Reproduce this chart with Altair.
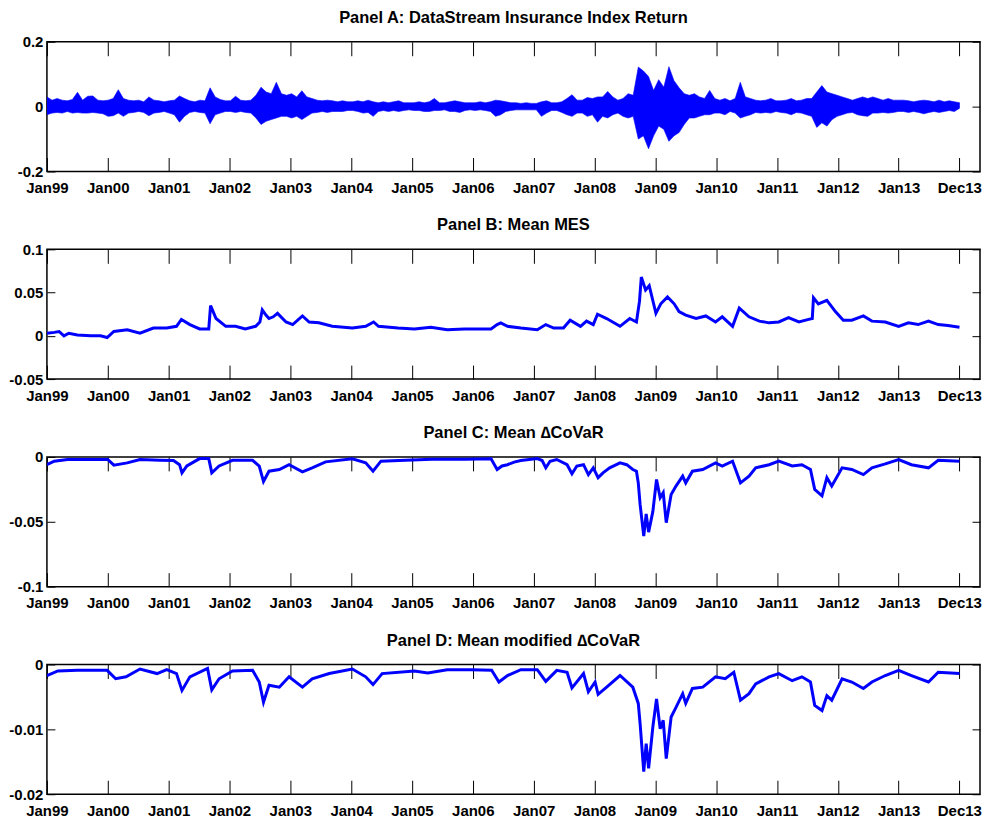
import altair as alt
import pandas as pd

FONT = "Liberation Sans, Arial, sans-serif"
BLUE = "#0000FF"

# ---- x axis (decimal years) ----
tick_years = [1999, 2000, 2001, 2002, 2003, 2004, 2005, 2006, 2007, 2008,
              2009, 2010, 2011, 2012, 2013, 2013.997]
tick_labels = ["Jan99", "Jan00", "Jan01", "Jan02", "Jan03", "Jan04", "Jan05",
               "Jan06", "Jan07", "Jan08", "Jan09", "Jan10", "Jan11", "Jan12",
               "Jan13", "Dec13"]
x_domain = [1999.0, 2014.337]

# ---- Panel A: monthly high / low of daily index return (Jan 1999 .. Dec 2013) ----
ret_hi = [
    0.030, 0.020, 0.025, 0.020, 0.018, 0.022, 0.044, 0.020, 0.032, 0.033, 0.020, 0.018,  # 1999
    0.020, 0.025, 0.052, 0.025, 0.020, 0.018, 0.020, 0.015, 0.030, 0.020, 0.018, 0.015,  # 2000
    0.018, 0.020, 0.033, 0.025, 0.018, 0.015, 0.020, 0.018, 0.058, 0.030, 0.022, 0.018,  # 2001
    0.018, 0.032, 0.020, 0.018, 0.020, 0.035, 0.060, 0.045, 0.040, 0.075, 0.040, 0.035,  # 2002
    0.040, 0.030, 0.049, 0.030, 0.025, 0.020, 0.018, 0.020, 0.018, 0.015, 0.018, 0.015,  # 2003
    0.015, 0.018, 0.015, 0.020, 0.015, 0.012, 0.015, 0.012, 0.015, 0.018, 0.012, 0.012,  # 2004
    0.012, 0.015, 0.012, 0.015, 0.025, 0.012, 0.012, 0.015, 0.018, 0.015, 0.012, 0.012,  # 2005
    0.012, 0.015, 0.012, 0.015, 0.020, 0.018, 0.015, 0.012, 0.012, 0.010, 0.012, 0.010,  # 2006
    0.010, 0.015, 0.018, 0.012, 0.012, 0.015, 0.025, 0.037, 0.020, 0.020, 0.028, 0.025,  # 2007
    0.030, 0.030, 0.047, 0.030, 0.020, 0.025, 0.040, 0.035, 0.122, 0.110, 0.093, 0.050,  # 2008
    0.083, 0.060, 0.123, 0.080, 0.058, 0.040, 0.035, 0.040, 0.030, 0.025, 0.050, 0.025,  # 2009
    0.020, 0.025, 0.018, 0.025, 0.075, 0.030, 0.025, 0.020, 0.018, 0.020, 0.025, 0.018,  # 2010
    0.018, 0.020, 0.025, 0.018, 0.020, 0.025, 0.025, 0.045, 0.065, 0.045, 0.040, 0.035,  # 2011
    0.030, 0.025, 0.020, 0.025, 0.030, 0.025, 0.030, 0.025, 0.020, 0.025, 0.020, 0.020,  # 2012
    0.020, 0.018, 0.015, 0.018, 0.020, 0.018, 0.015, 0.020, 0.015, 0.018, 0.015, 0.012,  # 2013
]
ret_lo = [
    -0.025, -0.020, -0.018, -0.020, -0.015, -0.020, -0.018, -0.020, -0.020, -0.018, -0.020, -0.022,  # 1999
    -0.030, -0.028, -0.020, -0.030, -0.020, -0.018, -0.015, -0.018, -0.028, -0.020, -0.018, -0.015,  # 2000
    -0.020, -0.025, -0.048, -0.030, -0.018, -0.015, -0.018, -0.020, -0.053, -0.025, -0.020, -0.015,  # 2001
    -0.015, -0.018, -0.015, -0.018, -0.020, -0.035, -0.055, -0.045, -0.040, -0.035, -0.030, -0.030,  # 2002
    -0.035, -0.030, -0.040, -0.030, -0.020, -0.018, -0.015, -0.018, -0.015, -0.015, -0.015, -0.012,  # 2003
    -0.012, -0.015, -0.020, -0.018, -0.030, -0.015, -0.012, -0.015, -0.012, -0.015, -0.012, -0.010,  # 2004
    -0.012, -0.012, -0.015, -0.015, -0.012, -0.012, -0.010, -0.015, -0.015, -0.018, -0.012, -0.010,  # 2005
    -0.012, -0.010, -0.012, -0.015, -0.030, -0.025, -0.015, -0.012, -0.010, -0.010, -0.010, -0.010,  # 2006
    -0.010, -0.030, -0.020, -0.012, -0.012, -0.018, -0.025, -0.030, -0.020, -0.020, -0.030, -0.025,  # 2007
    -0.048, -0.030, -0.035, -0.025, -0.020, -0.030, -0.035, -0.030, -0.100, -0.090, -0.130, -0.090,  # 2008
    -0.060, -0.070, -0.107, -0.090, -0.080, -0.055, -0.035, -0.035, -0.030, -0.025, -0.025, -0.020,  # 2009
    -0.020, -0.025, -0.015, -0.020, -0.035, -0.030, -0.025, -0.018, -0.020, -0.018, -0.020, -0.015,  # 2010
    -0.018, -0.020, -0.025, -0.018, -0.020, -0.025, -0.030, -0.064, -0.050, -0.060, -0.040, -0.030,  # 2011
    -0.025, -0.020, -0.018, -0.025, -0.028, -0.030, -0.020, -0.020, -0.018, -0.020, -0.018, -0.015,  # 2012
    -0.015, -0.018, -0.015, -0.018, -0.022, -0.018, -0.015, -0.018, -0.015, -0.012, -0.015, -0.005,  # 2013
]

# ---- Panel B: Mean MES ----
mes_t = [1999.0, 1999.12, 1999.2, 1999.28, 1999.36, 1999.5, 1999.72, 1999.88, 1999.99, 2000.1,
         2000.32, 2000.53, 2000.75, 2000.97, 2001.13, 2001.21, 2001.35, 2001.51, 2001.66, 2001.69,
         2001.78, 2001.94, 2002.1, 2002.26, 2002.43, 2002.5, 2002.54, 2002.6, 2002.65, 2002.72,
         2002.79, 2002.93, 2003.04, 2003.2, 2003.31, 2003.47, 2003.69, 2004.02, 2004.24, 2004.37,
         2004.45, 2004.77, 2005.04, 2005.31, 2005.58, 2005.86, 2006.13, 2006.3, 2006.4, 2006.46,
         2006.57, 2006.79, 2007.06, 2007.2, 2007.33, 2007.49, 2007.6, 2007.77, 2007.87, 2007.98,
         2008.05, 2008.2, 2008.42, 2008.58, 2008.69, 2008.74, 2008.77, 2008.84, 2008.9, 2009.01,
         2009.09, 2009.2, 2009.31, 2009.39, 2009.5, 2009.67, 2009.83, 2009.99, 2010.1, 2010.27,
         2010.38, 2010.54, 2010.71, 2010.87, 2011.03, 2011.19, 2011.36, 2011.52, 2011.58, 2011.6,
         2011.68, 2011.82, 2011.96, 2012.09, 2012.23, 2012.42, 2012.56, 2012.78, 2013.0, 2013.16,
         2013.32, 2013.49, 2013.65, 2013.81, 2014.0]
mes_v = [0.003, 0.004, 0.005, 0.0, 0.003, 0.001, 0.0, 0.0, -0.002, 0.005,
         0.007, 0.003, 0.009, 0.009, 0.011, 0.019, 0.013, 0.008, 0.008, 0.035,
         0.020, 0.011, 0.011, 0.008, 0.011, 0.016, 0.030, 0.024, 0.020, 0.022,
         0.026, 0.016, 0.013, 0.023, 0.016, 0.015, 0.011, 0.009, 0.011, 0.016,
         0.011, 0.009, 0.008, 0.010, 0.007, 0.008, 0.008, 0.008, 0.013, 0.015,
         0.011, 0.009, 0.007, 0.013, 0.009, 0.009, 0.018, 0.011, 0.017, 0.013,
         0.025, 0.020, 0.011, 0.020, 0.016, 0.040, 0.068, 0.053, 0.058, 0.026,
         0.037, 0.045, 0.037, 0.028, 0.024, 0.020, 0.023, 0.016, 0.022, 0.011,
         0.032, 0.022, 0.017, 0.015, 0.016, 0.021, 0.016, 0.019, 0.020, 0.044,
         0.037, 0.041, 0.028, 0.018, 0.018, 0.023, 0.017, 0.016, 0.011, 0.015,
         0.013, 0.017, 0.013, 0.012, 0.010]

# ---- Panel C: Mean Delta CoVaR ----
covar_t = [1999.0, 1999.12, 1999.34, 1999.7, 2000.0, 2000.1, 2000.32, 2000.53, 2000.86, 2001.08,
           2001.18, 2001.22, 2001.3, 2001.51, 2001.66, 2001.71, 2001.83, 2002.05, 2002.38, 2002.49,
           2002.56, 2002.65, 2002.82, 2002.98, 2003.2, 2003.36, 2003.58, 2004.02, 2004.24, 2004.36,
           2004.49, 2004.79, 2005.33, 2005.88, 2006.3, 2006.4, 2006.48, 2006.57, 2006.68, 2006.79,
           2007.06, 2007.14, 2007.2, 2007.27, 2007.38, 2007.55, 2007.63, 2007.71, 2007.82, 2007.9,
           2007.98, 2008.06, 2008.14, 2008.25, 2008.42, 2008.53, 2008.63, 2008.69,
           2008.72, 2008.75, 2008.81, 2008.85, 2008.89, 2008.96, 2009.02, 2009.08, 2009.13,
           2009.18, 2009.26, 2009.34, 2009.45, 2009.5, 2009.61, 2009.78, 2009.99, 2010.1, 2010.27,
           2010.4, 2010.54, 2010.65, 2010.87, 2011.03, 2011.25, 2011.41, 2011.55, 2011.62, 2011.74,
           2011.82, 2011.9, 2012.07, 2012.23, 2012.42, 2012.56, 2012.78, 2013.0, 2013.21, 2013.49,
           2013.65, 2014.0]
covar_v = [-0.006, -0.0033, -0.002, -0.002, -0.002, -0.0064, -0.0046, -0.002, -0.0026, -0.0028,
           -0.006, -0.0123, -0.007, -0.0013, -0.0013, -0.0123, -0.007, -0.0026, -0.0026, -0.007,
           -0.019, -0.011, -0.0097, -0.0059, -0.0115, -0.0084, -0.0038, -0.0015, -0.0046, -0.011,
           -0.0033, -0.0028, -0.0018, -0.0018, -0.0015, -0.0097, -0.007, -0.006, -0.004, -0.0028,
           -0.0013, -0.0028, -0.0084, -0.0033, -0.002, -0.006, -0.013, -0.007, -0.006, -0.0136,
           -0.0084, -0.016, -0.0123, -0.0084, -0.0046, -0.006, -0.0097, -0.011,
           -0.020, -0.0366, -0.061, -0.044, -0.058, -0.042, -0.0174, -0.0315, -0.0276,
           -0.0507, -0.029, -0.0225, -0.0148, -0.020, -0.011, -0.0097, -0.0046, -0.007, -0.0033,
           -0.020, -0.0148, -0.0084, -0.006, -0.0033, -0.007, -0.006, -0.0097, -0.025, -0.030,
           -0.016, -0.0225, -0.0084, -0.0097, -0.0136, -0.0084, -0.0054, -0.002, -0.006, -0.0084,
           -0.0026, -0.0033]

# ---- Panel D: Mean modified Delta CoVaR ----
mcovar_t = [1999.0, 1999.18, 1999.5, 1999.99, 2000.13, 2000.3, 2000.53, 2000.81, 2000.97, 2001.13,
            2001.22, 2001.35, 2001.64, 2001.71, 2001.83, 2002.05, 2002.38, 2002.49, 2002.56, 2002.65,
            2002.82, 2002.98, 2003.2, 2003.36, 2003.64, 2004.02, 2004.24, 2004.36, 2004.51, 2005.04,
            2005.26, 2005.58, 2005.97, 2006.31, 2006.43, 2006.57, 2006.79, 2007.06, 2007.2, 2007.38,
            2007.55, 2007.63, 2007.82, 2007.9, 2008.01, 2008.06, 2008.2, 2008.42, 2008.63, 2008.72,
            2008.75, 2008.81, 2008.85, 2008.89, 2008.96, 2009.02, 2009.08, 2009.13, 2009.18, 2009.26,
            2009.34, 2009.45, 2009.5, 2009.61, 2009.78, 2009.99, 2010.15, 2010.29, 2010.4, 2010.54,
            2010.65, 2010.87, 2011.03, 2011.25, 2011.41, 2011.55, 2011.62, 2011.74, 2011.82, 2011.9,
            2012.07, 2012.23, 2012.42, 2012.56, 2012.78, 2013.0, 2013.21, 2013.49, 2013.65, 2014.0]
mcovar_v = [-0.0017, -0.001, -0.0009, -0.0009, -0.0022, -0.0019, -0.0007, -0.0014, -0.0008, -0.0014,
            -0.004, -0.0019, -0.0006, -0.0039, -0.0022, -0.001, -0.0009, -0.0027, -0.0058, -0.0032,
            -0.0035, -0.0019, -0.0035, -0.0022, -0.0014, -0.0007, -0.0019, -0.0031, -0.0014, -0.001,
            -0.0013, -0.0008, -0.0008, -0.0009, -0.0027, -0.0017, -0.0008, -0.0008, -0.0026, -0.0009,
            -0.0012, -0.0036, -0.0014, -0.0042, -0.0027, -0.0046, -0.0035, -0.0017, -0.0035, -0.006,
            -0.0091, -0.0165, -0.0122, -0.016, -0.0096, -0.0053, -0.0099, -0.0086, -0.0145, -0.0081,
            -0.0066, -0.0045, -0.006, -0.0037, -0.0035, -0.0019, -0.0022, -0.0012, -0.0055, -0.0045,
            -0.003, -0.0019, -0.0014, -0.0025, -0.0019, -0.0027, -0.0063, -0.0071, -0.0048, -0.0055,
            -0.0022, -0.0027, -0.0037, -0.0027, -0.0017, -0.0009, -0.0017, -0.0027, -0.0012, -0.0014]

titles = ["Panel A: DataStream Insurance Index Return",
          "Panel B: Mean MES",
          "Panel C: Mean \u2206CoVaR",
          "Panel D: Mean modified \u2206CoVaR"]
y_domains = [[-0.2, 0.2], [-0.05, 0.1], [-0.1, 0.0], [-0.02, 0.0]]
y_ticks = [[-0.2, 0.0, 0.2], [-0.05, 0.0, 0.05, 0.1], [-0.1, -0.05, 0.0], [-0.02, -0.01, 0.0]]

W, H = 935, 130
XT, YT = 14, 8   # inward tick lengths (drawn as dashed grid)

n_months = len(ret_hi)
df_a = pd.DataFrame({
    "t": [1999 + i * 15.0 / (n_months - 1) for i in range(n_months)],
    "lo": ret_lo,
    "hi": ret_hi,
})
df_b = pd.DataFrame({"t": mes_t, "v": mes_v})
df_c = pd.DataFrame({"t": covar_t, "v": covar_v})
df_d = pd.DataFrame({"t": mcovar_t, "v": mcovar_v})

label_expr = ("[" + ",".join("'%s'" % s for s in tick_labels) + "][indexof(["
              + ",".join(repr(v) for v in tick_years) + "], datum.value)]")

COMMON = dict(labelFont=FONT, labelFontSize=15, labelFontWeight="bold", labelColor="black",
              ticks=False, domain=False, title=None, labelOverlap=False, labelFlush=False,
              grid=True, gridColor="black", gridOpacity=1, gridWidth=1)


def x_enc():
    return alt.X("t:Q", scale=alt.Scale(domain=x_domain, nice=False, zero=False),
                 axis=alt.Axis(orient="bottom", values=tick_years, labelExpr=label_expr,
                               labelPadding=9, gridDash=[XT, H - 2 * XT, XT], **COMMON))


def y_enc(field, ydom, yt):
    return alt.Y(field, scale=alt.Scale(domain=ydom, nice=False, zero=False),
                 axis=alt.Axis(orient="left", values=yt, labelExpr="toString(datum.value)",
                               labelPadding=4, gridDash=[YT, W - 2 * YT, YT], **COMMON))


def titled(ch, text):
    return ch.properties(
        width=W, height=H,
        title=alt.TitleParams(text=text, font=FONT, fontSize=16.5, fontWeight="bold",
                              color="black", anchor="middle", frame="group",
                              baseline="alphabetic", offset=18, dy=22.5),
    )


panel_a = alt.Chart(df_a).mark_area(color=BLUE, opacity=1, clip=True,
                                    stroke=BLUE, strokeWidth=0.6).encode(
    x=x_enc(), y=y_enc("hi:Q", y_domains[0], y_ticks[0]), y2="lo:Q")

lines = []
for df, k in [(df_b, 1), (df_c, 2), (df_d, 3)]:
    lines.append(alt.Chart(df).mark_line(color=BLUE, strokeWidth=3, clip=True).encode(
        x=x_enc(), y=y_enc("v:Q", y_domains[k], y_ticks[k])))

panels = [titled(panel_a, titles[0])] + [titled(lines[i], titles[i + 1]) for i in range(3)]

chart = alt.vconcat(*panels, spacing=78, bounds="flush").configure_view(
    stroke="black", strokeWidth=1.5
).properties(padding={"left": 0, "top": 0, "right": 0, "bottom": 0})

chart.save("out.html", embed_options={"renderer": "svg", "actions": False})
